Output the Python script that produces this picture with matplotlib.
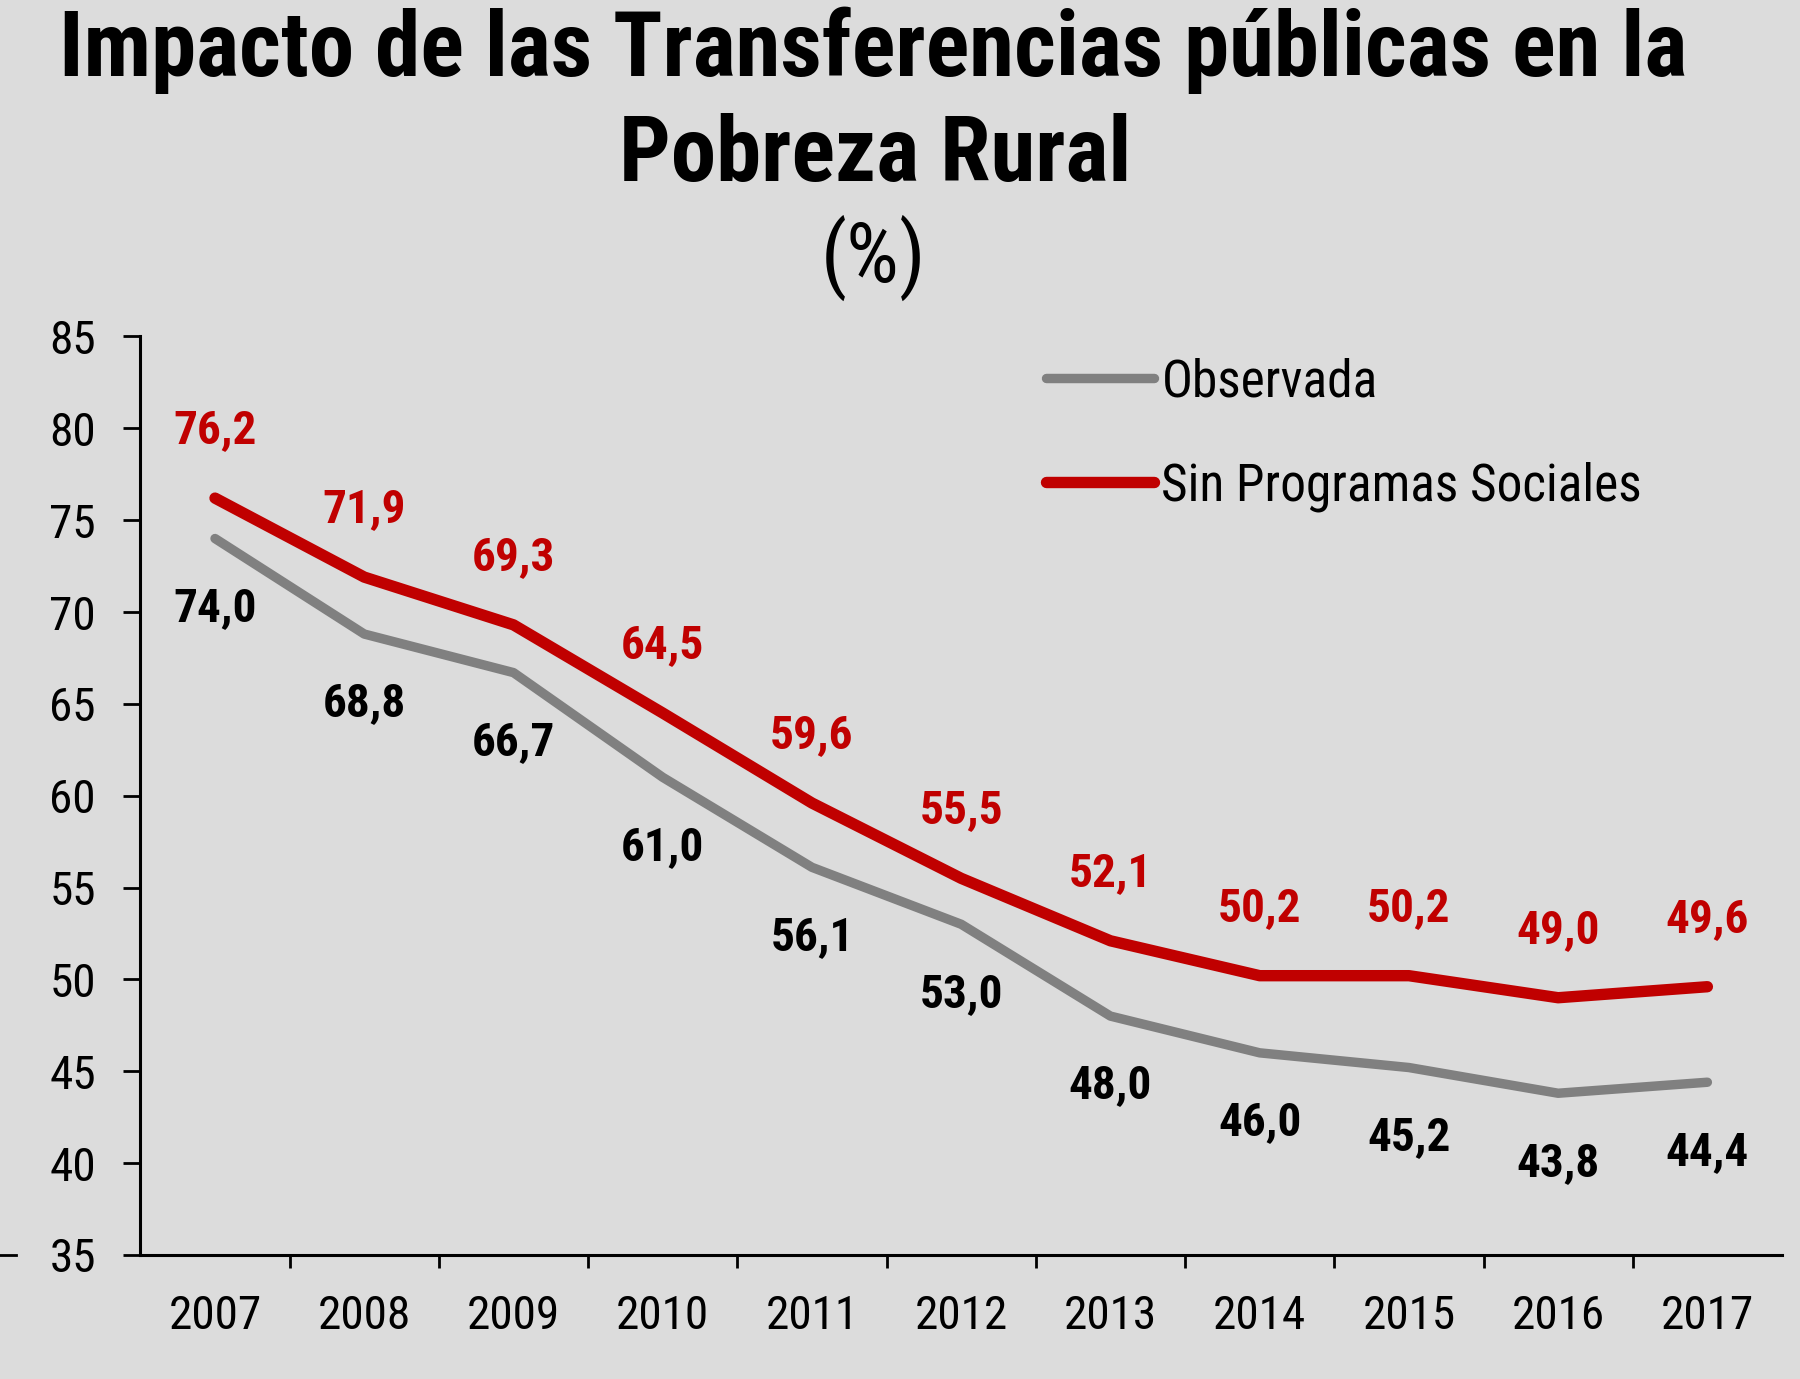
import matplotlib.pyplot as plt
from matplotlib.lines import Line2D

years = ["2007", "2008", "2009", "2010", "2011", "2012", "2013", "2014", "2015", "2016", "2017"]
observada = [74.0, 68.8, 66.7, 61.0, 56.1, 53.0, 48.0, 46.0, 45.2, 43.8, 44.4]
sin_programas = [76.2, 71.9, 69.3, 64.5, 59.6, 55.5, 52.1, 50.2, 50.2, 49.0, 49.6]
y_ticks = [35, 40, 45, 50, 55, 60, 65, 70, 75, 80, 85]

BG = "#dcdcdc"
RED = "#c00000"
GREY = "#808080"
FONT = ["Roboto Condensed", "Archivo Narrow", "DejaVu Sans"]

plt.rcParams["font.family"] = FONT

fig = plt.figure(figsize=(18, 13.79), dpi=100, facecolor=BG)
ax = fig.add_axes([0.078, 0.09, 0.912, 0.666])
ax.set_facecolor(BG)

x = list(range(len(years)))
ax.plot(x, observada, color=GREY, lw=6.8, label="Observada", solid_capstyle="round")
ax.plot(x, sin_programas, color=RED, lw=8.2, label="Sin Programas Sociales", solid_capstyle="round")

def fmt(v):
    return f"{v:.1f}".replace(".", ",")

for xi, v in zip(x, sin_programas):
    ax.annotate(fmt(v), (xi, v), xytext=(0, 49), textcoords="offset points",
                ha="center", va="center", fontsize=34, fontweight="bold", color=RED)
for xi, v in zip(x, observada):
    ax.annotate(fmt(v), (xi, v), xytext=(0, -50), textcoords="offset points",
                ha="center", va="center", fontsize=34, fontweight="bold", color="black")

ax.set_xlim(-0.5, len(years) - 0.5)
ax.set_ylim(35, 85)
ax.set_yticks(y_ticks)
ax.set_xticks(x)
ax.set_xticklabels(years)
ax.set_xticks([i + 0.5 for i in range(len(years) - 1)], minor=True)
ax.tick_params(axis="x", which="major", length=0, pad=28, labelsize=34)
ax.tick_params(axis="x", which="minor", length=9, width=2, direction="out")
ax.tick_params(axis="y", length=12, width=2, pad=20, labelsize=34)

for side in ["top", "right"]:
    ax.spines[side].set_visible(False)
for side in ["left", "bottom"]:
    ax.spines[side].set_linewidth(2.2)

ax.legend(loc="upper left", bbox_to_anchor=(0.581, 0.741), bbox_transform=fig.transFigure,
          frameon=False, fontsize=37, handlelength=2.1, handletextpad=0.15,
          labelspacing=1.05, borderpad=0, borderaxespad=0)

fig.text(0.485, 0.945, "Impacto de las Transferencias públicas en la", ha="center",
         va="baseline", fontsize=65.5, fontweight="bold")
fig.text(0.486, 0.869, "Pobreza Rural", ha="center", va="baseline", fontsize=65.5, fontweight="bold")
fig.text(0.485, 0.813, "(%)", ha="center", va="center", fontsize=60)

# small stray tick at the far left edge
fig.add_artist(Line2D([0, 0.009], [0.09, 0.09], color="black", lw=2, transform=fig.transFigure))

fig.savefig("out.png", dpi=100, facecolor=BG)
